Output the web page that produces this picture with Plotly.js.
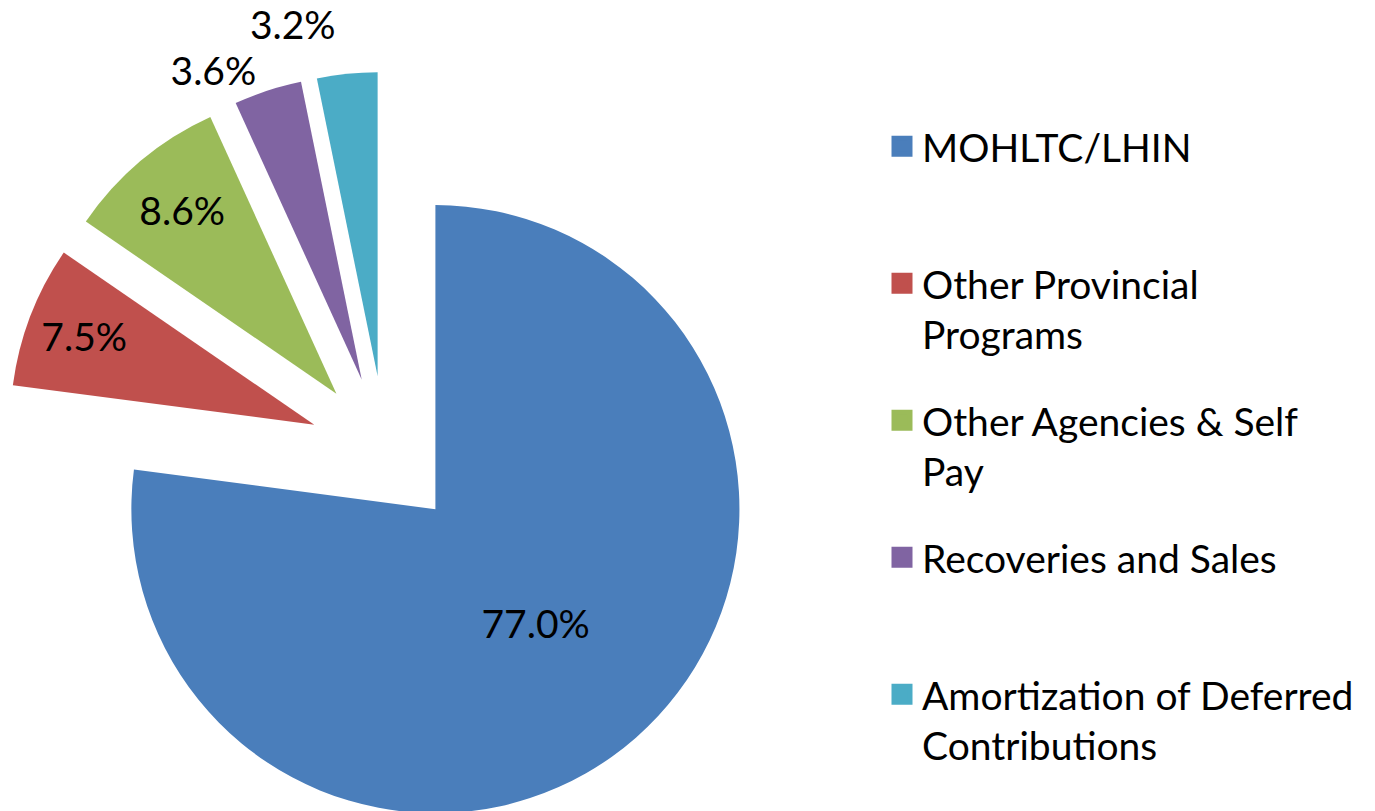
<!DOCTYPE html>
<html>
<head>
<meta charset="utf-8">
<script src="https://cdn.plot.ly/plotly-3.0.1.min.js"></script>
<style>
html, body { margin: 0; padding: 0; overflow: hidden; background: #ffffff; }
#wrap { width: 1375px; height: 811px; overflow: hidden; }
#chart { width: 1375px; height: 904px; }
#chart path.textline { stroke-opacity: 0 !important; }
</style>
</head>
<body>
<div id="wrap"><div id="chart"></div></div>
<script>
// Data
var labels = ['MOHLTC/LHIN', 'Other Provincial Programs', 'Other Agencies & Self Pay', 'Recoveries and Sales', 'Amortization of Deferred Contributions'];
var legendLabels = ['MOHLTC/LHIN<br> ', 'Other Provincial<br>Programs', 'Other Agencies &amp; Self<br>Pay', 'Recoveries and Sales<br> ', 'Amortization of Deferred<br>Contributions'];
var values = [77.0, 7.5, 8.6, 3.6, 3.2];
var colors = ['#4A7EBB', '#C0504D', '#9BBB59', '#8064A2', '#4BACC6'];
var textPositions = ['inside', 'inside', 'inside', 'outside', 'outside'];

var FONT = 'Lato, "Open Sans", sans-serif';
var FS = 39;

var pie = {
  type: 'pie',
  labels: labels,
  values: values,
  sort: false,
  direction: 'clockwise',
  rotation: 0,
  pull: values.map(function () { return 0.25; }),
  marker: { colors: colors, line: { width: 0 } },
  texttemplate: '%{value:.1f}%',
  textposition: textPositions,
  insidetextorientation: 'horizontal',
  textfont: { family: FONT, size: FS, color: '#000000' },
  insidetextfont: { family: FONT, size: FS, color: '#000000' },
  outsidetextfont: { family: FONT, size: FS, color: '#000000' },
  domain: { x: [0.0038, 0.5566], y: [0, 1] },
  showlegend: false,
  hoverinfo: 'label+percent'
};

var legendTraces = labels.map(function (lab, i) {
  return {
    type: 'scatter',
    mode: 'markers',
    x: [null],
    y: [null],
    name: legendLabels[i],
    legendgroup: 'g' + i,
    marker: { symbol: 'square', size: 16, color: colors[i], line: { color: colors[i], width: 5 } },
    hoverinfo: 'skip',
    showlegend: true
  };
});

var layout = {
  width: 1375,
  height: 904,
  margin: { l: 0, r: 0, t: 0, b: 0 },
  paper_bgcolor: '#ffffff',
  plot_bgcolor: '#ffffff',
  xaxis: { visible: false },
  yaxis: { visible: false },
  showlegend: true,
  legend: {
    x: 882 / 1375,
    xanchor: 'left',
    y: 1 - 114.5 / 904,
    yanchor: 'top',
    valign: 'top',
    tracegroupgap: 32.6,
    font: { family: FONT, size: FS, color: '#000000' },
    bgcolor: 'rgba(0,0,0,0)'
  }
};

Plotly.newPlot('chart', [pie].concat(legendTraces), layout, { displayModeBar: false, staticPlot: true });
</script>
</body>
</html>
